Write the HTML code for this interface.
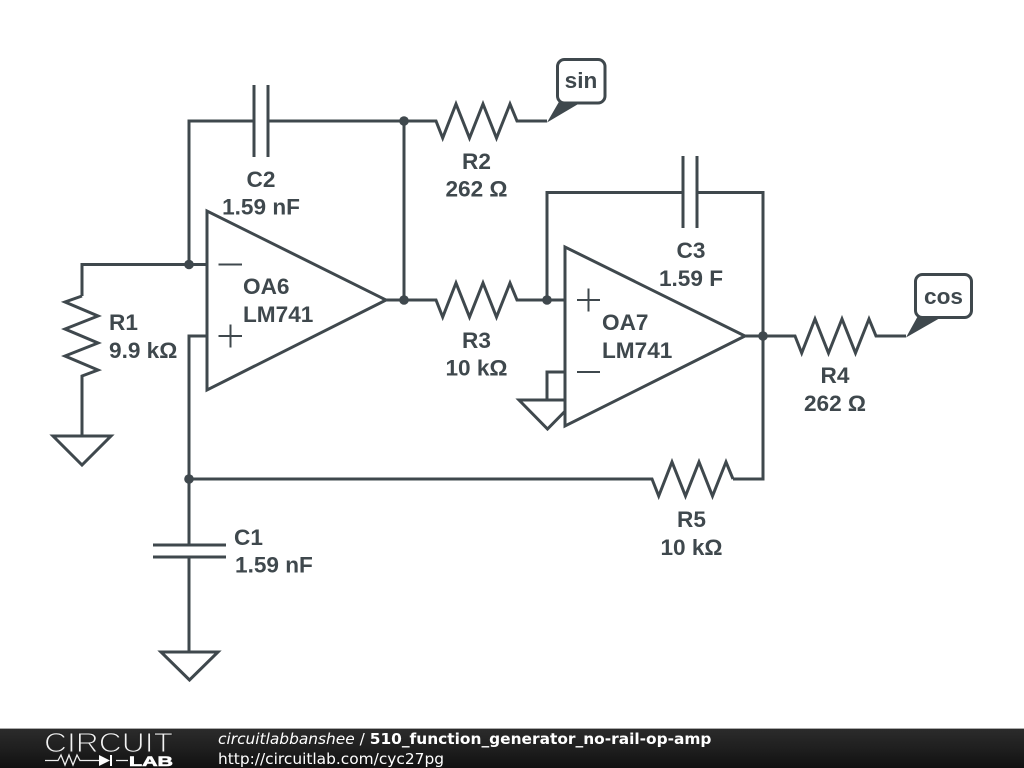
<!DOCTYPE html>
<html>
<head>
<meta charset="utf-8">
<style>
html,body{margin:0;padding:0;background:#fff;width:1024px;height:768px;overflow:hidden}
svg{display:block}
.w{fill:none;stroke:#3f484d;stroke-width:3;stroke-linejoin:miter;stroke-linecap:butt}
.s{fill:none;stroke:#3f484d;stroke-width:2}
.t{font-family:"Liberation Sans",sans-serif;font-weight:bold;font-size:22.6px;fill:#3f484d;text-anchor:middle}
.l{text-anchor:start}
.f{font-family:"DejaVu Sans",sans-serif;font-size:15.4px;fill:#fff}
</style>
</head>
<body>
<svg width="1024" height="768" viewBox="0 0 1024 768" xmlns="http://www.w3.org/2000/svg">
<defs>
<linearGradient id="g" x1="0" y1="0" x2="0" y2="1">
<stop offset="0" stop-color="#2b2b2b"/><stop offset="0.5" stop-color="#1f1f1f"/><stop offset="1" stop-color="#111"/>
</linearGradient>
</defs>
<rect width="1024" height="768" fill="#fff"/>

<!-- wires -->
<path class="w" d="M189 264.5V121H254M268 121H404M404 121V300"/>
<path class="w" d="M82 296V264.5H207"/>
<path class="w" d="M404 121H436L442.7 138 456 104 469.5 138 483 104 496.5 138 510 104 517 121H547"/>
<path class="w" d="M386 300H436L442.7 317 456 283 469.5 317 483 283 496.5 317 510 283 517 300H565"/>
<path class="w" d="M547 300V192.500H683M697 192.500H763V479H733"/>
<path class="w" d="M745 336H795L801.700 353 815 319 828.500 353 842 319 855.500 353 869 319 876 336H906"/>
<path class="w" d="M207 336H189V545M189 557V652"/>
<path class="w" d="M189 479H652L658.700 496 672 462 685.500 496 699 462 712.500 496 726 462 733 479"/>
<path class="w" d="M82 296L65 302 98 316 65 329 98 343 65 356 98 370 82 376V436"/>
<path class="w" d="M547 400V372H565"/>

<!-- capacitors -->
<path class="w" d="M254 85V157M268 85V157"/>
<path class="w" d="M683 156V228M697 156V228"/>
<path class="w" d="M153 545H226M153 557H226"/>

<!-- grounds -->
<path class="w" d="M53 436H111L82 465Z"/>
<path class="w" d="M161 652H218L189.500 680Z"/>
<path class="w" d="M519 400H576L547.500 429Z"/>

<!-- op amps -->
<path class="w" style="fill:#fff" d="M207 211V390L386 300Z"/>
<path class="w" style="fill:#fff" d="M565 247V426L745 336Z"/>
<path class="s" d="M218.500 264.500H242M218.500 336H242M230.500 324.500V347.500"/>
<path class="s" d="M577 300H600M588.500 288.500V311.500M577 372H600"/>

<!-- junctions -->
<g fill="#3f484d">
<circle cx="189" cy="264.500" r="4.800"/>
<circle cx="404" cy="121" r="4.800"/>
<circle cx="404" cy="300" r="4.800"/>
<circle cx="547" cy="300" r="4.800"/>
<circle cx="763" cy="336" r="4.800"/>
<circle cx="189" cy="479" r="4.800"/>
<!-- tag wedges -->
<path d="M547 122.500L560 100H585Z"/>
<path d="M906 337.500L919 314H947Z"/>
</g>

<!-- tags -->
<rect class="w" x="557.500" y="59.500" width="47.500" height="43.500" rx="7" style="fill:#fff"/>
<rect class="w" x="915.500" y="274.500" width="56" height="43" rx="7" style="fill:#fff"/>
<text class="t" x="581" y="88">sin</text>
<text class="t" x="943.500" y="304">cos</text>

<!-- labels -->
<text class="t" x="261" y="187">C2</text>
<text class="t" x="261" y="214.500">1.59 nF</text>
<text class="t" x="476.500" y="169">R2</text>
<text class="t" x="476.500" y="196.500">262 Ω</text>
<text class="t" x="476.500" y="348">R3</text>
<text class="t" x="476.500" y="375.500">10 kΩ</text>
<text class="t" x="691" y="258">C3</text>
<text class="t" x="691" y="286">1.59 F</text>
<text class="t" x="835" y="383">R4</text>
<text class="t" x="835" y="411">262 Ω</text>
<text class="t" x="691.500" y="527">R5</text>
<text class="t" x="691.500" y="555">10 kΩ</text>
<text class="t l" x="109" y="330">R1</text>
<text class="t l" x="109" y="358">9.9 kΩ</text>
<text class="t l" x="234" y="545">C1</text>
<text class="t l" x="235" y="572.500">1.59 nF</text>
<text class="t l" x="243" y="294">OA6</text>
<text class="t l" x="243" y="322">LM741</text>
<text class="t l" x="602" y="330">OA7</text>
<text class="t l" x="602" y="358">LM741</text>

<!-- footer -->
<rect x="0" y="729" width="1024" height="39" fill="url(#g)"/>
<rect x="0" y="728" width="1024" height="1" fill="#aaa"/>
<text x="44" y="752" font-family="Liberation Sans, sans-serif" font-size="28" fill="#f2f2f2" stroke="#232323" stroke-width="1.1" textLength="129" lengthAdjust="spacingAndGlyphs">CIRCUIT</text>
<path d="M45 760.500H58L61 755 65 765 69 755 73 765 77 755 80 760.500H99M116 760.500H128" fill="none" stroke="#eee" stroke-width="1.300"/>
<path d="M99 755V766L110 760.500Z" fill="#fff"/>
<path d="M111 755V766" stroke="#fff" stroke-width="2"/>
<text x="129" y="766" font-family="Liberation Sans, sans-serif" font-weight="bold" font-size="14" fill="#fff" stroke="#fff" stroke-width="0.6" textLength="44" lengthAdjust="spacingAndGlyphs">LAB</text>
<text class="f" x="218" y="744"><tspan font-style="italic">circuitlabbanshee</tspan> / <tspan font-weight="bold">510_function_generator_no-rail-op-amp</tspan></text>
<text class="f" x="218" y="764">http://circuitlab.com/cyc27pg</text>
</svg>
</body>
</html>
